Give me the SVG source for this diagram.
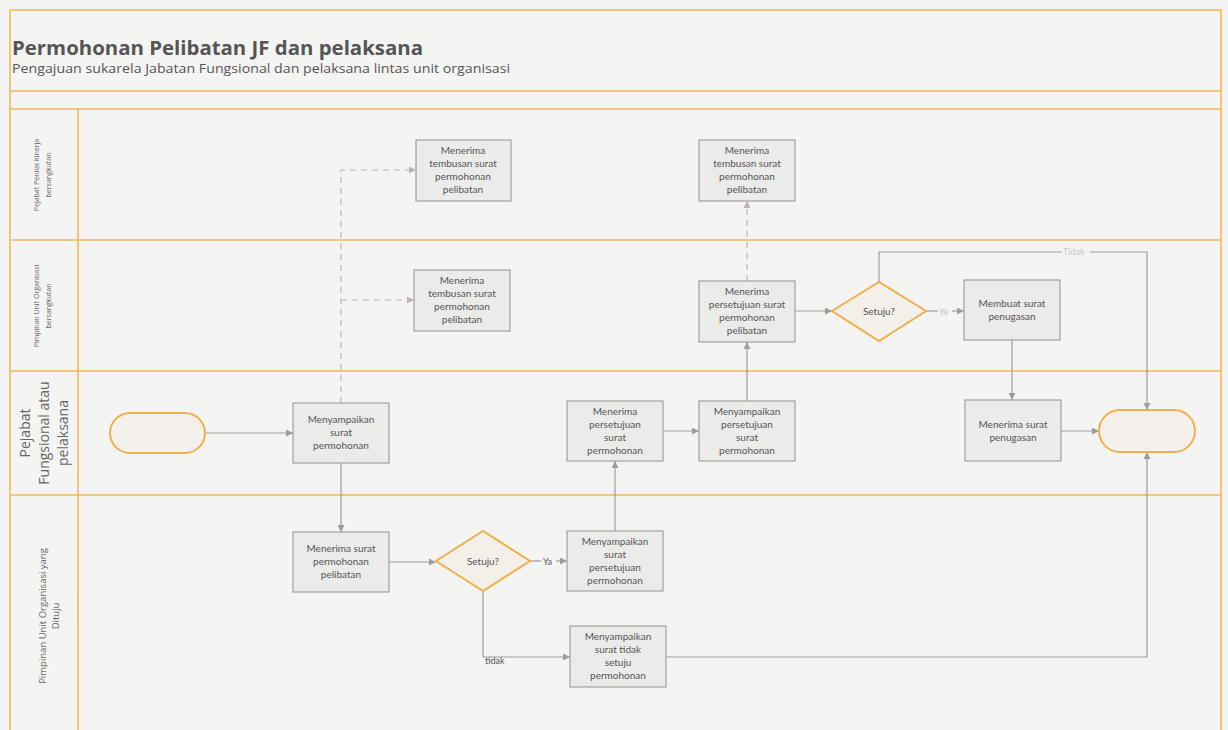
<svg xmlns="http://www.w3.org/2000/svg" width="1228" height="730" viewBox="0 0 1228 730">
  <style>
    .lane { stroke: #f2b75a; stroke-width: 1.6; fill: none; }
    .box { fill: #ebebea; stroke: #9a9a9a; stroke-width: 1.1; }
    .dec { fill: #f3efe9; stroke: #f0b04c; stroke-width: 2; }
    .term { fill: #f4f1ed; stroke: #f0b04c; stroke-width: 2; }
    .t { font-family: Lato, "Open Sans", sans-serif; font-size: 10px; fill: #555; text-anchor: middle; }
    .c { fill: none; stroke: #9d9d9d; stroke-width: 1.2; }
    .d { fill: none; stroke: #bdb3b3; stroke-width: 1.2; stroke-dasharray: 6 5; }
    .lbl { font-family: Lato, "Open Sans", sans-serif; font-size: 9px; fill: #555; }
    .lt { font-family: "Open Sans", Lato, sans-serif; fill: #666; text-anchor: middle; }
  </style>
  <defs>
    <marker id="ah" viewBox="0 0 10 10" refX="10" refY="5" markerWidth="7" markerHeight="7" orient="auto" markerUnits="userSpaceOnUse">
      <path d="M0,0 L10,5 L0,10 z" fill="#9d9d9d"/>
    </marker>
    <marker id="ahd" viewBox="0 0 10 10" refX="10" refY="5" markerWidth="7" markerHeight="7" orient="auto" markerUnits="userSpaceOnUse">
      <path d="M0,0 L10,5 L0,10 z" fill="#bdb3b3"/>
    </marker>
  </defs>

  <!-- page -->
  <rect x="0" y="0" width="1228" height="730" fill="#f4f4f2"/>
  <rect x="10" y="10" width="1211" height="730" fill="#f5f5f3" class="lane"/>

  <!-- header -->
  <g id="header">
    <text x="12" y="55" font-family="'Open Sans', Lato, sans-serif" font-size="20" font-weight="bold" fill="#555" textLength="411" lengthAdjust="spacingAndGlyphs">Permohonan Pelibatan JF dan pelaksana</text>
    <text x="12" y="73" font-family="'Open Sans', Lato, sans-serif" font-size="12" fill="#555" textLength="498" lengthAdjust="spacingAndGlyphs">Pengajuan sukarela Jabatan Fungsional dan pelaksana lintas unit organisasi</text>
  </g>

  <!-- swimlanes -->
  <g id="lanes">
    <line class="lane" x1="10" y1="91" x2="1221" y2="91"/>
    <line class="lane" x1="10" y1="109" x2="1221" y2="109"/>
    <line class="lane" x1="10" y1="240" x2="1221" y2="240"/>
    <line class="lane" x1="10" y1="371" x2="1221" y2="371"/>
    <line class="lane" x1="10" y1="495" x2="1221" y2="495"/>
    <line class="lane" x1="78" y1="109" x2="78" y2="730"/>
    <text class="lt" font-size="7" transform="translate(39,175) rotate(-90)">Pejabat Penilai Kinerja</text>
    <text class="lt" font-size="7" transform="translate(51,175) rotate(-90)">bersangkutan</text>
    <text class="lt" font-size="7" transform="translate(39,306) rotate(-90)">Pimpinan Unit Organisasi</text>
    <text class="lt" font-size="7" transform="translate(51,306) rotate(-90)">bersangkutan</text>
    <text class="lt" font-size="14" transform="translate(30,433) rotate(-90)">Pejabat</text>
    <text class="lt" font-size="14" transform="translate(49,433) rotate(-90)">Fungsional atau</text>
    <text class="lt" font-size="14" transform="translate(68,433) rotate(-90)">pelaksana</text>
    <text class="lt" font-size="9.5" transform="translate(46,616) rotate(-90)">Pimpinan Unit Organisasi yang</text>
    <text class="lt" font-size="9.5" transform="translate(59,616) rotate(-90)">Dituju</text>
  </g>

  <!-- connectors -->
  <g id="connectors">
    <line class="c" x1="205" y1="433" x2="293" y2="433" marker-end="url(#ah)"/>
    <polyline class="d" points="341,403 341,170 416,170" marker-end="url(#ahd)"/>
    <line class="d" x1="341" y1="300" x2="414" y2="300" marker-end="url(#ahd)"/>
    <line class="c" x1="341" y1="463" x2="341" y2="532" marker-end="url(#ah)"/>
    <line class="c" x1="389" y1="562" x2="436" y2="562" marker-end="url(#ah)"/>
    <line class="c" x1="530" y1="561" x2="541" y2="561"/>
    <line class="c" x1="556" y1="561" x2="567" y2="561" marker-end="url(#ah)"/>
    <text class="lbl" x="543" y="565">Ya</text>
    <line class="c" x1="615" y1="531" x2="615" y2="461" marker-end="url(#ah)"/>
    <line class="c" x1="663" y1="431" x2="699" y2="431" marker-end="url(#ah)"/>
    <line class="c" x1="747" y1="401" x2="747" y2="342" marker-end="url(#ah)"/>
    <line class="d" x1="747" y1="281" x2="747" y2="201" marker-end="url(#ahd)"/>
    <line class="c" x1="795" y1="311" x2="832" y2="311" marker-end="url(#ah)"/>
    <line class="c" x1="926" y1="311" x2="938" y2="311"/>
    <line class="c" x1="952" y1="311" x2="964" y2="311" marker-end="url(#ah)"/>
    <text class="lbl" x="939" y="315" style="fill:#c4c4c4" font-size="8">Ya</text>
    <polyline class="c" points="879,282 879,252 1062,252"/>
    <polyline class="c" points="1090,252 1147,252 1147,410" marker-end="url(#ah)"/>
    <text class="lbl" x="1063" y="255" style="fill:#c8c8c8" font-size="8.5">Tidak</text>
    <line class="c" x1="1012" y1="340" x2="1012" y2="400" marker-end="url(#ah)"/>
    <line class="c" x1="1061" y1="431" x2="1099" y2="431" marker-end="url(#ah)"/>
    <polyline class="c" points="483,591 483,657 570,657" marker-end="url(#ah)"/>
    <text class="lbl" x="485" y="664">tidak</text>
    <polyline class="c" points="666,657 1147,657 1147,452" marker-end="url(#ah)"/>
  </g>

  <!-- nodes -->
  <g id="start">
    <rect class="term" x="110" y="413" width="95" height="40" rx="20"/>
  </g>
  <g id="menyampaikan-surat-permohonan">
    <rect class="box" x="293" y="403" width="96" height="60"/>
    <text class="t" x="341" y="423">Menyampaikan<tspan x="341" dy="13">surat</tspan><tspan x="341" dy="13">permohonan</tspan></text>
  </g>
  <g id="tembusan-penilai">
    <rect class="box" x="416" y="140" width="95" height="61"/>
    <text class="t" x="463" y="154">Menerima<tspan x="463" dy="13">tembusan surat</tspan><tspan x="463" dy="13">permohonan</tspan><tspan x="463" dy="13">pelibatan</tspan></text>
  </g>
  <g id="tembusan-pimpinan">
    <rect class="box" x="414" y="270" width="96" height="61"/>
    <text class="t" x="462" y="284">Menerima<tspan x="462" dy="13">tembusan surat</tspan><tspan x="462" dy="13">permohonan</tspan><tspan x="462" dy="13">pelibatan</tspan></text>
  </g>
  <g id="menerima-surat-permohonan">
    <rect class="box" x="293" y="532" width="96" height="60"/>
    <text class="t" x="341" y="552">Menerima surat<tspan x="341" dy="13">permohonan</tspan><tspan x="341" dy="13">pelibatan</tspan></text>
  </g>
  <g id="setuju-dituju">
    <polygon class="dec" points="436,561 483,531 530,561 483,591"/>
    <text class="t" x="483" y="565">Setuju?</text>
  </g>
  <g id="menyampaikan-persetujuan-dituju">
    <rect class="box" x="567" y="531" width="96" height="60"/>
    <text class="t" x="615" y="545">Menyampaikan<tspan x="615" dy="13">surat</tspan><tspan x="615" dy="13">persetujuan</tspan><tspan x="615" dy="13">permohonan</tspan></text>
  </g>
  <g id="menyampaikan-tidak-setuju">
    <rect class="box" x="570" y="626" width="96" height="61"/>
    <text class="t" x="618" y="640">Menyampaikan<tspan x="618" dy="13">surat tidak</tspan><tspan x="618" dy="13">setuju</tspan><tspan x="618" dy="13">permohonan</tspan></text>
  </g>
  <g id="menerima-persetujuan">
    <rect class="box" x="567" y="401" width="96" height="60"/>
    <text class="t" x="615" y="415">Menerima<tspan x="615" dy="13">persetujuan</tspan><tspan x="615" dy="13">surat</tspan><tspan x="615" dy="13">permohonan</tspan></text>
  </g>
  <g id="menyampaikan-persetujuan">
    <rect class="box" x="699" y="401" width="96" height="60"/>
    <text class="t" x="747" y="415">Menyampaikan<tspan x="747" dy="13">persetujuan</tspan><tspan x="747" dy="13">surat</tspan><tspan x="747" dy="13">permohonan</tspan></text>
  </g>
  <g id="menerima-persetujuan-pelibatan">
    <rect class="box" x="699" y="281" width="96" height="61"/>
    <text class="t" x="747" y="295">Menerima<tspan x="747" dy="13">persetujuan surat</tspan><tspan x="747" dy="13">permohonan</tspan><tspan x="747" dy="13">pelibatan</tspan></text>
  </g>
  <g id="tembusan-penilai-2">
    <rect class="box" x="699" y="140" width="96" height="61"/>
    <text class="t" x="747" y="154">Menerima<tspan x="747" dy="13">tembusan surat</tspan><tspan x="747" dy="13">permohonan</tspan><tspan x="747" dy="13">pelibatan</tspan></text>
  </g>
  <g id="setuju-pimpinan">
    <polygon class="dec" points="832,311 879,282 926,311 879,341"/>
    <text class="t" x="879" y="315">Setuju?</text>
  </g>
  <g id="membuat-surat-penugasan">
    <rect class="box" x="964" y="280" width="96" height="60"/>
    <text class="t" x="1012" y="307">Membuat surat<tspan x="1012" dy="13">penugasan</tspan></text>
  </g>
  <g id="menerima-surat-penugasan">
    <rect class="box" x="965" y="400" width="96" height="61"/>
    <text class="t" x="1013" y="428">Menerima surat<tspan x="1013" dy="13">penugasan</tspan></text>
  </g>
  <g id="end">
    <rect class="term" x="1099" y="410" width="96" height="42" rx="21"/>
  </g>
</svg>
